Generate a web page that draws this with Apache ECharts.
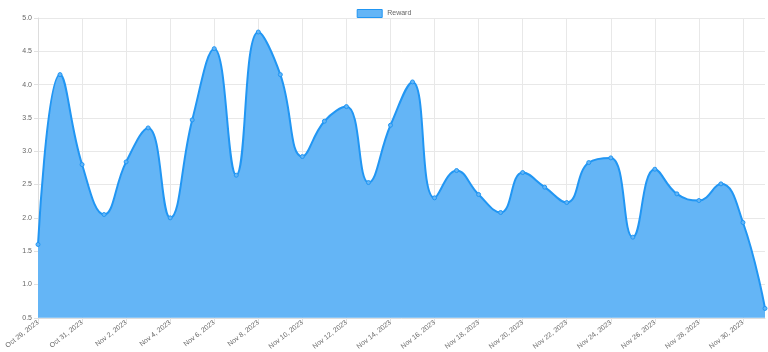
<!DOCTYPE html>
<html>
<head>
<meta charset="utf-8">
<script src="https://cdn.jsdelivr.net/npm/echarts@6/dist/echarts.min.js"></script>
<style>html,body{margin:0;padding:0;background:#fff}#c{width:768px;height:352px}</style>
</head>
<body>
<div id="c"></div>
<script>
const categories = ["Oct 29, 2023","Oct 30, 2023","Oct 31, 2023","Nov 1, 2023","Nov 2, 2023","Nov 3, 2023","Nov 4, 2023","Nov 5, 2023","Nov 6, 2023","Nov 7, 2023","Nov 8, 2023","Nov 9, 2023","Nov 10, 2023","Nov 11, 2023","Nov 12, 2023","Nov 13, 2023","Nov 14, 2023","Nov 15, 2023","Nov 16, 2023","Nov 17, 2023","Nov 18, 2023","Nov 19, 2023","Nov 20, 2023","Nov 21, 2023","Nov 22, 2023","Nov 23, 2023","Nov 24, 2023","Nov 25, 2023","Nov 26, 2023","Nov 27, 2023","Nov 28, 2023","Nov 29, 2023","Nov 30, 2023","Dec 1, 2023"];
const reward = [1.60,4.15,2.80,2.05,2.84,3.35,2.00,3.47,4.54,2.64,4.79,4.15,2.92,3.45,3.67,2.53,3.39,4.04,2.30,2.71,2.35,2.08,2.68,2.46,2.23,2.83,2.90,1.71,2.73,2.36,2.26,2.51,1.93,0.64];
const yMin = 0.5, yMax = 5.0, yStep = 0.5;

const chart = echarts.init(document.getElementById('c'), null, {renderer:'canvas'});
const labelColor = '#666';
const gridColor = '#e8e8e8';
const fillColor = '#64B5F6';
const lineColor = '#2196F3';
chart.setOption({
  animation:false,
  legend:{
    top:4, left:'center',
    itemWidth:25, itemHeight:8, itemGap:4,
    icon:'rect',
    textStyle:{fontSize:7, color:labelColor, fontFamily:'Liberation Sans, Arial'},
    data:[{name:'Reward', itemStyle:{color:fillColor, borderColor:lineColor, borderWidth:1}}]
  },
  grid:{left:38, right:3, top:18, bottom:31},
  xAxis:{
    type:'category', data:categories, boundaryGap:false,
    axisLine:{show:true, lineStyle:{color:'#ddd'}},
    axisTick:{show:true, interval:1, length:4, lineStyle:{color:'#e0e0e0'}},
    axisLabel:{interval:1, rotate:38, fontSize:7, color:labelColor, margin:4, fontFamily:'Liberation Sans, Arial'},
    splitLine:{show:true, interval:1, lineStyle:{color:gridColor}}
  },
  yAxis:{
    type:'value', min:yMin, max:yMax, interval:yStep,
    axisLine:{show:true, lineStyle:{color:'#ddd'}},
    axisTick:{show:true, length:4, lineStyle:{color:'#e0e0e0'}},
    axisLabel:{fontSize:7, color:labelColor, margin:6, fontFamily:'Liberation Sans, Arial', formatter:v=>v.toFixed(1)},
    splitLine:{show:true, lineStyle:{color:gridColor}}
  },
  series:[{
    name:'Reward', type:'line', data:reward, smooth:0.45,
    symbol:'circle', symbolSize:4, showSymbol:true,
    itemStyle:{color:fillColor, borderColor:lineColor, borderWidth:1},
    lineStyle:{color:lineColor, width:2},
    areaStyle:{color:fillColor, opacity:1, origin:'start'}
  }]
});
</script>
</body>
</html>
